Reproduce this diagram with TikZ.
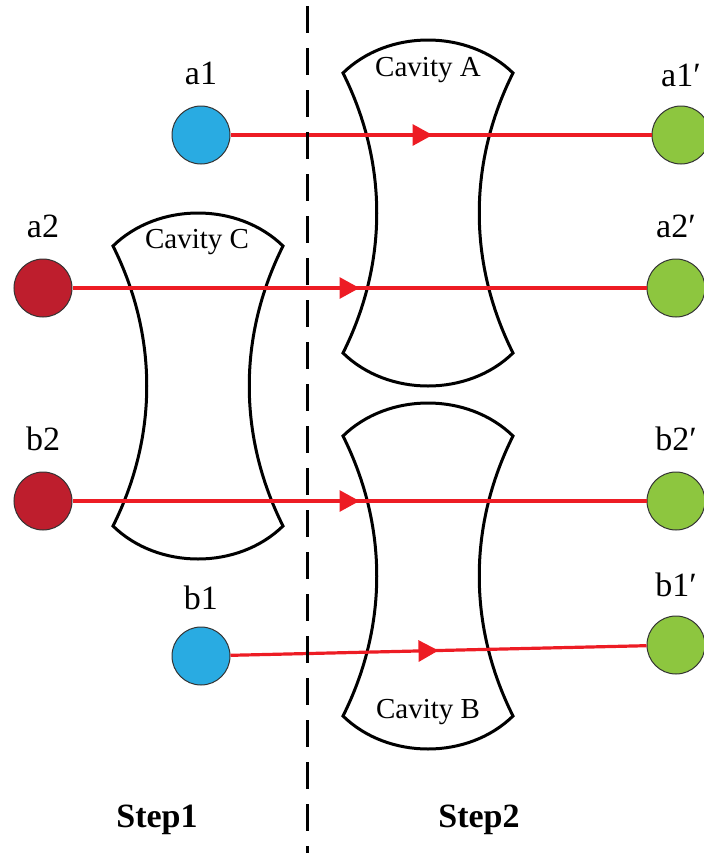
\documentclass[tikz,border=0pt]{standalone}
\usepackage{fontspec}
\setmainfont{Liberation Serif}
\usetikzlibrary{positioning, arrows.meta, decorations.markings}
\definecolor{qblue}{HTML}{29ABE2}
\definecolor{qred}{HTML}{BE1E2D}
\definecolor{qgreen}{HTML}{8DC63F}
\definecolor{beamred}{HTML}{ED1C24}
\tikzset{cavity/.pic={\draw[line width=1.5pt] (-85,-140) .. controls (-40,-184) and (40,-184) .. (85,-140)
    .. controls (40,-50) and (40,50) .. (85,140) .. controls (40,184) and (-40,184) .. (-85,140)
    .. controls (-40,50) and (-40,-50) .. cycle;}}

\begin{document}
\begin{tikzpicture}[x=0.5pt, y=-0.5pt, qubit/.style={draw=black!80, circle, minimum size=29pt, inner sep=0pt, line width=0.5pt}, lbl/.style={font=\fontsize{17}{19}\selectfont, inner sep=0pt}, cavlbl/.style={font=\fontsize{14.5}{16}\selectfont, inner sep=0pt}, steplbl/.style={font=\fontsize{17}{19}\selectfont\bfseries, inner sep=0pt}, beam/.style={draw=beamred, line width=1.6pt, postaction={decorate}, decoration={markings, mark=at position #1 with {\arrow[beamred]{Triangle[length=10pt, width=10.5pt]}}}}, beam/.default=0.5]
        \useasboundingbox (0,0) rectangle (703,853);
        % cavities
        \pic at (428,213) {cavity};
        \pic at (198,386) {cavity};
        \pic at (428,576) {cavity};
        \node[cavlbl] (cavA) at (428,70) {Cavity A};
        \node[cavlbl] (cavC) at (197,242) {Cavity C};
        \node[cavlbl] (cavB) at (428,712) {Cavity B};
        % qubits
        \node[qubit, fill=qblue] (a1) at (201,135) {};
        \node[qubit, fill=qred] (a2) at (43,288) {};
        \node[qubit, fill=qred] (b2) at (43,501) {};
        \node[qubit, fill=qblue] (b1) at (201,656) {};
        \node[qubit, fill=qgreen] (a1p) at (681,135) {};
        \node[qubit, fill=qgreen] (a2p) at (676,288) {};
        \node[qubit, fill=qgreen] (b2p) at (676,501) {};
        \node[qubit, fill=qgreen] (b1p) at (676,645) {};
        % labels
        \node[lbl, above=10pt of a1] (a1l) {a1};
        \node[lbl, above=10pt of a2] (a2l) {a2};
        \node[lbl, above=10pt of b2] (b2l) {b2};
        \node[lbl, above=8pt of b1] (b1l) {b1};
        \node[lbl, above=9pt of a1p] (a1pl) {a1′};
        \node[lbl, above=10pt of a2p] (a2pl) {a2′};
        \node[lbl, above=10pt of b2p] (b2pl) {b2′};
        \node[lbl, above=9pt of b1p] (b1pl) {b1′};
        % beams
        \draw[beam=0.48] (a1) -- (a1p);
        \draw[beam] (a2) -- (a2p);
        \draw[beam] (b2) -- (b2p);
        \draw[beam] (b1) -- (b1p);
        % divider
        \coordinate (divtop) at (307,6);
        \coordinate (divbot) at (307,853);
        \draw[line width=1.5pt, dash pattern=on 13.5pt off 7.5pt] (divtop) -- (divbot);
        \node[steplbl] (step1) at (157,820) {Step1};
        \node[steplbl] (step2) at (479,820) {Step2};
    \end{tikzpicture}
\end{document}
